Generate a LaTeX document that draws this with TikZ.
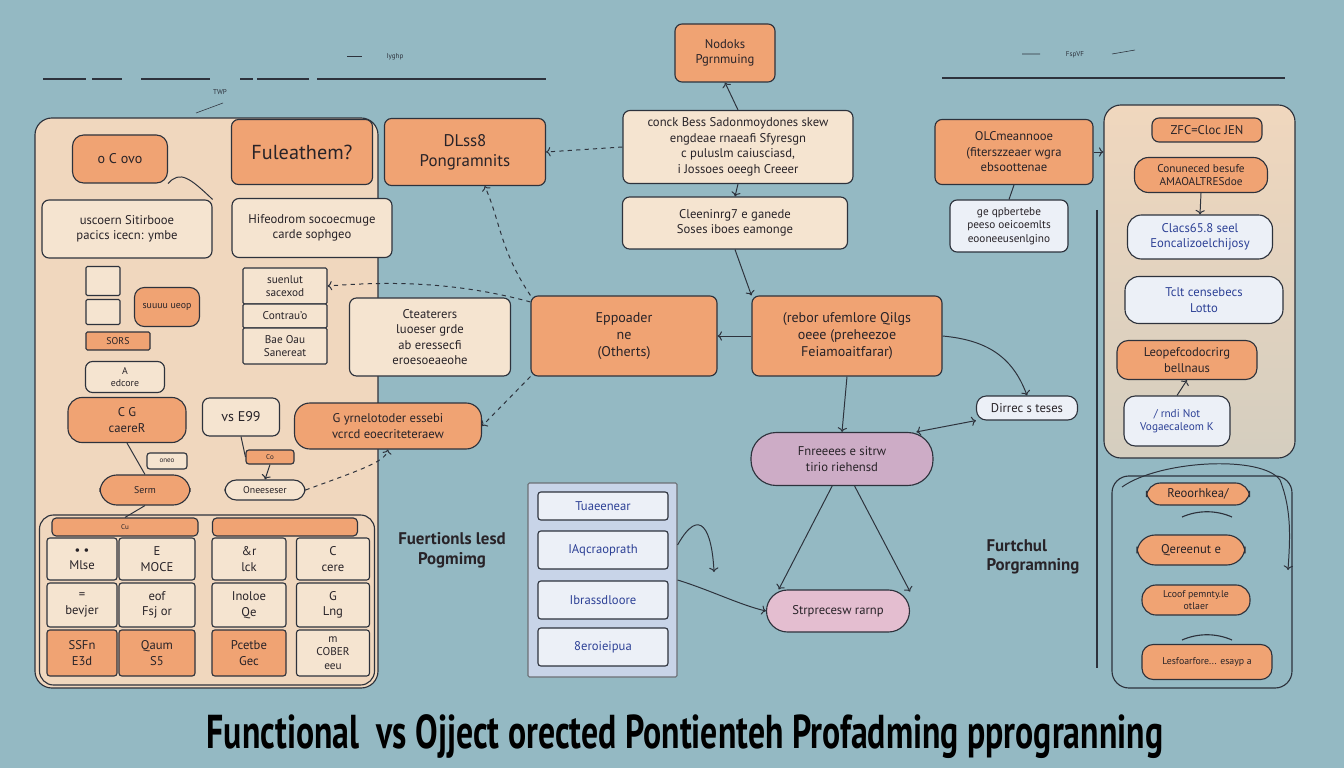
\documentclass[tikz,border=0pt]{standalone}
\usepackage{fontspec}
\setmainfont{PT Sans}
\usepackage{graphicx}
\usetikzlibrary{arrows.meta}

\definecolor{bgC}{RGB}{148,185,195}
\definecolor{orF}{RGB}{240,163,115}
\definecolor{panF}{RGB}{240,215,190}
\definecolor{ltF}{RGB}{245,228,208}
\definecolor{whF}{RGB}{236,240,247}
\definecolor{lavF}{RGB}{205,172,198}
\definecolor{pinkF}{RGB}{228,190,208}
\definecolor{bluF}{RGB}{200,212,232}
\definecolor{blT}{RGB}{45,65,150}
\definecolor{lineC}{RGB}{45,50,60}
\definecolor{txtC}{RGB}{40,35,40}

\begin{document}
\begin{tikzpicture}[x=0.025cm,y=-0.025cm,
  box/.style={draw=lineC, line width=0.8pt, rounded corners=5pt, align=center, inner sep=1pt, text=txtC},
  obox/.style={box, fill=orF},
  lbox/.style={box, fill=ltF},
  wbox/.style={box, fill=whF, text=blT},
  pill/.style={rounded corners=11pt},
  cell/.style={box, fill=ltF, rounded corners=2pt, font=\small},
  ocell/.style={cell, fill=orF},
  sz/.style 2 args={minimum width=#1*0.025cm, minimum height=#2*0.025cm},
  link/.style={->, draw=lineC, line width=0.7pt},
  faint/.style={link, dashed}
]
\fill[bgC] (0,0) rectangle (1344,768);
\useasboundingbox (0,0) rectangle (1344,768);

% scribbled rules at the top
\draw[lineC, line width=1pt] (43,79) -- (86,79) (92,79) -- (122,79) (141,79) -- (210,79)
  (240,79) -- (253,79) (257,79) -- (309,79) (317,79) -- (546,79);
\draw[lineC, line width=1pt] (942,78) -- (1285,78);
\draw[lineC] (347,56) -- (362,56);
\node[font=\tiny, text=lineC] (scrA) at (395,57) {Iyghp};
\node[font=\tiny, text=lineC] (scrB) at (220,92) {TWP};
\draw[lineC] (1022,54) -- (1040,54) (1112,54) -- (1135,50);
\node[font=\tiny, text=lineC] (scrC) at (1075,55) {FspVF};
\draw[lineC] (196,113) -- (223,103);

% big panels
\node[box, fill=panF, rounded corners=12pt, sz={343}{570}] (lpanel) at (206.5,403) {};
\node[box, top color=panF, bottom color=panF!70!bgC, rounded corners=12pt, sz={191}{353}] (rtop) at (1199.5,281.5) {};
\node[box, rounded corners=12pt, sz={180}{212}] (rlow) at (1202,582) {};
\draw[lineC, line width=0.8pt] (1097,210) -- (1097,668);

% top
\node[obox, sz={100}{58}, font=\small] (top) at (725,53) {Nodoks\\Pgrnmuing};

% first row
\node[obox, rounded corners=8pt, sz={95}{48}] (cyl) at (120,159) {o C ovo};
\node[obox, sz={141}{65}, font=\Large] (fule) at (302,152) {Fuleathem?};
\node[obox, sz={161}{67}, font=\large] (dlss) at (465,152) {DLss8\\Pongramnits};
\node[lbox, sz={230}{73}, font=\small] (conck) at (738,147)
  {conck Bess Sadonmoydones skew\\engdeae rnaeafi Sfyresgn\\c puluslm caiusciasd,\\i Jossoes oeegh Creeer};
\node[obox, sz={158}{65}, font=\small] (olc) at (1014,152)
  {OLCmeannooe\\(fiterszzeaer wgra\\ebsoottenae};

% second row
\node[lbox, sz={170}{58}, font=\small] (usco) at (127,229) {uscoern Sitirbooe\\pacics icecn: ymbe};
\node[lbox, sz={160}{59}, font=\small] (hife) at (312,228) {Hifeodrom socoecmuge\\carde sophgeo};
\node[lbox, sz={225}{52}, font=\small] (clean) at (735,223) {Cleeninrg7 e ganede\\Soses iboes eamonge};
\node[wbox, text=txtC, sz={118}{52}, font=\footnotesize] (gebox) at (1009,226)
  {ge qpbertebe\\peeso oeicoemlts\\eooneeusenlgino};

% small items in the left panel
\node[lbox, rounded corners=1pt, sz={34}{29}] (sqa) at (103,281) {};
\node[lbox, rounded corners=1pt, sz={34}{25}] (sqb) at (103,312) {};
\node[obox, rounded corners=7pt, sz={65}{39}, font=\scriptsize] (cylb) at (167,307) {suuuu ueop};
\node[obox, rounded corners=1pt, sz={64}{18}, font=\scriptsize] (sors) at (118,341) {SORS};
\node[lbox, sz={79}{31}, font=\scriptsize] (edco) at (125,377) {A\\edcore};
\node[lbox, rounded corners=1pt, sz={84}{36}, font=\footnotesize] (tab1) at (285,286) {suenlut\\sacexod};
\node[lbox, rounded corners=1pt, sz={84}{24}, font=\footnotesize] (tab2) at (285,316) {Contrau'o};
\node[lbox, rounded corners=1pt, sz={84}{36}, font=\footnotesize] (tab3) at (285,346) {Bae Oau\\Sanereat};

% third row
\node[lbox, sz={161}{78}, font=\small] (ctea) at (430,337)
  {Cteaterers\\luoeser grde\\ab eressecfi\\eroesoeaeohe};
\node[obox, sz={186}{80}] (eppo) at (624,336) {Eppoader\\ne\\(Otherts)};
\node[obox, sz={190}{80}] (rebor) at (847,336)
  {(rebor ufemlore Qilgs\\oeee (preheezoe\\Feiamoaitfarar)};

% fourth row
\node[obox, rounded corners=10pt, sz={118}{45}, font=\small] (caer) at (127,420) {C G\\caereR};
\node[lbox, sz={77}{38}] (vse) at (241,417) {vs E99};
\node[obox, pill, sz={187}{46}, font=\small] (yrn) at (388,426)
  {G yrnelotoder essebi\\vcrcd eoecriteteraew};
\node[obox, rounded corners=2pt, sz={48}{14}, font=\tiny] (co) at (270,457) {Co};
\node[lbox, rounded corners=2pt, sz={40}{16}, font=\tiny] (oneo) at (167,461) {oneo};
\node[obox, rounded corners=12pt, sz={90}{30}, font=\scriptsize] (serm) at (145,490) {Serm};
\node[lbox, pill, rounded corners=8pt, sz={80}{20}, font=\scriptsize] (onee) at (265,490) {Oneeseser};
\node[wbox, text=txtC, rounded corners=7pt, sz={101}{24}, font=\small] (dirrec) at (1027,408) {Dirrec s teses};
\node[box, fill=lavF, pill, rounded corners=18pt, sz={182}{53}, font=\small] (lav) at (842,459)
  {Fnreeees e sitrw\\tirio riehensd};

% grid
\node[box, fill=panF, rounded corners=10pt, sz={335}{170}] (gridbox) at (207,600) {};
\node[obox, rounded corners=3pt, sz={146}{18}, font=\tiny] (lhead) at (125,527) {Cu};
\node[obox, rounded corners=3pt, sz={145}{18}] (rhead) at (285,527) {};
\node[cell, sz={70}{42}] (c11) at (82,559) {\textbullet\ \textbullet\\Mlse};
\node[cell, sz={76}{42}] (c12) at (157,559) {E\\MOCE};
\node[cell, sz={74}{42}] (c13) at (249,559) {\&r\\lck};
\node[cell, sz={73}{42}] (c14) at (333,559) {C\\cere};
\node[cell, sz={70}{44}] (c21) at (82,605) {=\\bevjer};
\node[cell, sz={76}{44}] (c22) at (157,605) {eof\\Fsj or};
\node[cell, sz={74}{44}] (c23) at (249,605) {Inoloe\\Qe};
\node[cell, sz={73}{44}] (c24) at (333,605) {G\\Lng};
\node[ocell, sz={70}{46}] (c31) at (82,653) {SSFn\\E3d};
\node[ocell, sz={76}{46}] (c32) at (157,653) {Qaum\\S5};
\node[ocell, sz={74}{46}] (c33) at (249,653) {Pcetbe\\Gec};
\node[cell, sz={73}{46}, font=\footnotesize] (c34) at (333,653) {m\\COBER\\eeu};

% lower middle
\node[font=\large\bfseries, align=center, text=txtC] (fleg) at (452,550) {Fuertionls lesd\\Pogmimg};
\node[box, fill=bluF, draw=lineC!70, rounded corners=1pt, sz={149}{194}] (blue) at (602.5,580) {};
\node[wbox, rounded corners=2pt, sz={130}{28}, font=\small] (bl1) at (603,506) {Tuaeenear};
\node[wbox, rounded corners=2pt, sz={130}{38}, font=\small] (bl2) at (603,550) {IAqcraoprath};
\node[wbox, rounded corners=2pt, sz={130}{38}, font=\small] (bl3) at (603,600) {Ibrassdloore};
\node[wbox, rounded corners=2pt, sz={130}{38}, font=\small] (bl4) at (603,647) {8eroieipua};
\node[box, fill=pinkF, rounded corners=15pt, sz={143}{42}, font=\small] (strp) at (838,611) {Strprecesw rarnp};
\node[font=\large\bfseries, align=left, text=txtC] (fprog) at (1033,557) {Furtchul\\Porgramning};

% right column
\node[obox, sz={110}{24}, font=\small] (r1) at (1207,130) {ZFC=Cloc JEN};
\node[obox, rounded corners=10pt, sz={133}{35}, font=\footnotesize] (r2) at (1201,175) {Conuneced besufe\\AMAOALTRESdoe};
\node[wbox, rounded corners=10pt, sz={145}{44}, font=\small] (r3) at (1200,237) {Clacs65.8 seel\\Eoncalizoelchijosy};
\node[wbox, rounded corners=10pt, sz={158}{47}, font=\small] (r4) at (1204,300) {Tclt censebecs\\Lotto};
\node[obox, rounded corners=8pt, sz={140}{39}, font=\small] (r5) at (1187,360) {Leopefcodocrirg\\bellnaus};
\node[wbox, rounded corners=8pt, sz={106}{50}, font=\footnotesize] (r6) at (1177,421) {/ rndi Not\\Vogaecaleom K};
\node[obox, rounded corners=10pt, sz={103}{22}, font=\small] (r7) at (1198,494) {Reoorhkea/};
\node[obox, rounded corners=13pt, sz={108}{30}, font=\small] (r8) at (1191,550) {Qereenut e};
\node[obox, rounded corners=10pt, sz={108}{30}, font=\scriptsize] (r9) at (1196,600) {Lcoof pemnty.le\\otlaer};
\node[obox, rounded corners=8pt, sz={130}{35}, font=\scriptsize] (r10) at (1207,662) {Lesfoarfore... esayp a};

% title
\node[font=\bfseries, text=black] (title) at (685,737)
  {\resizebox*{23.9cm}{1.1cm}{Functional\ \ vs Ojject orected Pontienteh Profadming pprogranning}};

% connectors
\draw[link] (conck.north) -- (top.south);
\draw[link] (conck.south) -- (clean.north);
\draw[link] (clean.south) -- (rebor.north west);
\draw[link] (rebor.west) -- (eppo.east);
\draw[link] (rebor.east) .. controls (985,340) and (1012,355) .. (dirrec.north);
\draw[link, <->] (dirrec.south west) -- (lav.20);
\draw[link] (rebor.south) -- (lav.north);
\draw[link] (lav.250) -- (strp.160);
\draw[link] (lav.295) -- (strp.15);
\coordinate (bend1) at (714,572);
\draw[link] (blue.25) .. controls (700,505) and (712,530) .. (bend1);
\draw[link] (blue.east) .. controls (710,590) and (740,605) .. (strp.west);
\draw[faint] (eppo.north west) .. controls (500,250) and (500,220) .. (dlss.-60);
\draw[faint] (eppo.160) .. controls (450,280) and (380,282) .. (tab1.east);
\draw[faint] (conck.west) -- (dlss.east);
\draw[faint] (eppo.south west) -- (yrn.east);
\draw[faint] (onee.east) .. controls (360,470) and (385,462) .. (yrn.south);
\draw[link] (olc.east) -- (rtop.west |- olc.east);
\draw[lineC, line width=0.7pt] (olc.south) -- (gebox.north);
\draw[link] (r2.south) -- (r3.north);
\draw[link] (r6.north) -- (r5.south);
\draw[lineC, line width=0.7pt] (serm.south) -- (lhead.north);
\draw[link] (co.south) -- (onee.north);
\draw[lineC, line width=0.7pt] (vse.south) -- (co.west);
\draw[lineC, line width=0.7pt] (caer.south) -- (serm.north);
\draw[lineC, line width=0.7pt] (cyl.south east) .. controls (180,170) and (190,178) .. (usco.north east);
\coordinate (arcA) at (1122,487);
\coordinate (arcB) at (1288,570);
\draw[link] (arcA) .. controls (1160,460) and (1262,455) .. (1280,480) .. controls (1292,510) and (1290,540) .. (arcB);
\draw[lineC, line width=0.8pt] (1182,517) .. controls (1198,510) and (1216,510) .. (1232,517);
\draw[lineC, line width=0.8pt] (1182,640) .. controls (1198,633) and (1216,633) .. (1232,640);
\end{tikzpicture}
\end{document}
